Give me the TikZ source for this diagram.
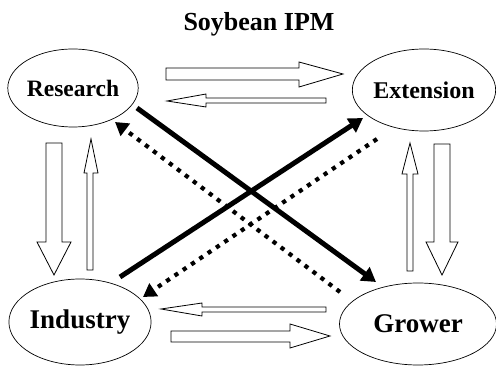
\documentclass[tikz,border=0pt]{standalone}
\usepackage{fontspec}
\setmainfont{Liberation Serif}
\usetikzlibrary{shapes.geometric,arrows.meta}
\begin{document}
\begin{tikzpicture}[x=1pt,y=-1pt,
  ell/.style={draw,ellipse,line width=0.7pt,inner sep=0pt},
  hollow/.style={draw,line width=0.8pt,fill=white,line join=miter},
  thickarr/.style={line width=5pt,-{Triangle[length=14pt,width=16pt]}},
  dotarr/.style={line width=4.2pt,dash pattern=on 4.2pt off 5.8pt,-{Triangle[length=13pt,width=15pt]}}]
\useasboundingbox (0,0) rectangle (496,366);
\node (title) at (259,24) {\fontsize{26}{26}\selectfont\bfseries Soybean IPM};
\node[ell,minimum width=128pt,minimum height=78pt,font=\fontsize{23.5}{24}\selectfont\bfseries] (research) at (73,88) {Research};
\node[ell,minimum width=142pt,minimum height=82pt,font=\fontsize{24}{24}\selectfont\bfseries] (extension) at (424,90) {Extension};
\node[ell,minimum width=132pt,minimum height=86pt,font=\fontsize{27}{27}\selectfont\bfseries] (industry) at (80,322) {Industry};
\node[ell,minimum width=157pt,minimum height=82pt,font=\fontsize{27}{27}\selectfont\bfseries] (grower) at (418,324) {Grower};
% hollow arrows
\draw[hollow] (166,68) -- (299,68) -- (299,62) -- (343,74) -- (299,87) -- (299,80) -- (166,80) -- cycle;
\draw[hollow] (326,98) -- (206,98) -- (206,94) -- (167,101) -- (206,107) -- (206,103) -- (326,103) -- cycle;
\draw[hollow] (46,143) -- (62,143) -- (62,242) -- (71,242) -- (54,275) -- (37,242) -- (46,242) -- cycle;
\draw[hollow] (87,270) -- (87,173) -- (84,173) -- (91,139) -- (98,173) -- (93,173) -- (93,270) -- cycle;
\draw[hollow] (407,271) -- (407,174) -- (402,174) -- (410,143) -- (418,174) -- (413,174) -- (413,271) -- cycle;
\draw[hollow] (434,144) -- (450,144) -- (450,242) -- (458,242) -- (442,275) -- (426,242) -- (434,242) -- cycle;
\draw[hollow] (326,307) -- (202,307) -- (202,303) -- (161,309) -- (202,316) -- (202,312) -- (326,312) -- cycle;
\draw[hollow] (171,331) -- (290,331) -- (290,324) -- (330,336) -- (290,348) -- (290,342) -- (171,342) -- cycle;
% connector ends
\coordinate (rgA) at (137,108);
\coordinate (rgB) at (376,282);
\coordinate (ieA) at (120,277);
\coordinate (ieB) at (363,118);
\coordinate (grA) at (340,292);
\coordinate (grB) at (115,122);
\coordinate (eiA) at (377,139);
\coordinate (eiB) at (143,297);
\draw[dotarr] (grA) -- (grB);
\draw[dotarr] (eiA) -- (eiB);
\draw[thickarr] (rgA) -- (rgB);
\draw[thickarr] (ieA) -- (ieB);
\end{tikzpicture}
\end{document}
